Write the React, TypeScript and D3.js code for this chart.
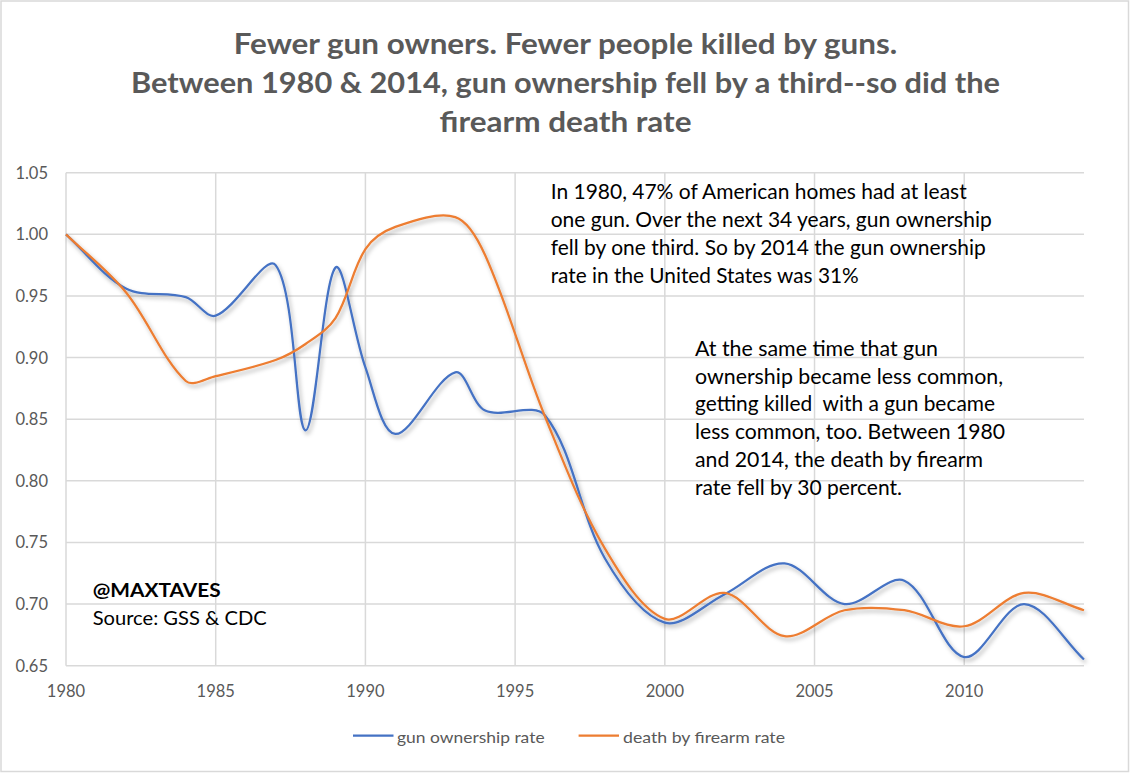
import React from "react";
import * as d3 from "d3";

const years = [1980, 1982, 1984, 1985, 1987, 1988, 1989, 1990, 1991, 1993, 1994, 1996, 1998, 2000, 2002, 2004, 2006, 2008, 2010, 2012, 2014];
const gunOwnership = [1.0, 0.956, 0.949, 0.934, 0.975, 0.841, 0.973, 0.892, 0.838, 0.888, 0.857, 0.853, 0.737, 0.685, 0.708, 0.733, 0.7, 0.719, 0.657, 0.7, 0.655];
const deathByFirearm = [1.0, 0.953, 0.881, 0.885, 0.898, 0.911, 0.932, 0.988, 1.006, 1.014, 0.983, 0.852, 0.745, 0.688, 0.709, 0.674, 0.695, 0.695, 0.682, 0.709, 0.695];
const yTicks = [0.65, 0.7, 0.75, 0.8, 0.85, 0.9, 0.95, 1.0, 1.05];
const xTicks = [1980, 1985, 1990, 1995, 2000, 2005, 2010];
const seriesNames = ["gun ownership rate", "death by firearm rate"];
const seriesColors = ["#4472C4", "#ED7D31"];

const titleLines = [
  "Fewer gun owners. Fewer people killed by guns.",
  "Between 1980 & 2014, gun ownership fell by a third--so did the",
  "firearm death rate",
];
const note1 = [
  "In 1980, 47% of American homes had at least",
  "one gun. Over the next 34 years, gun ownership",
  "fell by one third. So by 2014 the gun ownership",
  "rate in the United States was 31%",
];
const note2 = [
  "At the same time that gun",
  "ownership became less common,",
  "getting killed  with a gun became",
  "less common, too. Between 1980",
  "and 2014, the death by firearm",
  "rate fell by 30 percent.",
];

const W = 1131;
const H = 773;
const FONT = "Lato, 'Open Sans', sans-serif";

// Excel-like smoothed line: Bezier segments whose control points are scaled by neighbouring chord lengths
function smoothPath(pts: [number, number][]): string {
  const p = d3.path();
  const t = 1 / 3;
  const n = pts.length;
  const dist = (a: [number, number], b: [number, number]) => Math.hypot(b[0] - a[0], b[1] - a[1]);
  p.moveTo(pts[0][0], pts[0][1]);
  for (let i = 0; i < n - 1; i++) {
    const p0 = pts[i - 1] || pts[i];
    const p1 = pts[i];
    const p2 = pts[i + 1];
    const p3 = pts[i + 2] || pts[i + 1];
    const d01 = dist(p0, p1);
    const d12 = dist(p1, p2);
    const d23 = dist(p2, p3);
    const f = d01 + d12 > 0 ? (t * d12) / (d01 + d12) : 0;
    const g = d12 + d23 > 0 ? (t * d12) / (d12 + d23) : 0;
    const c1x = p1[0] + f * (p2[0] - p0[0]);
    const c1y = p1[1] + f * (p2[1] - p0[1]);
    const c2x = p2[0] - g * (p3[0] - p1[0]);
    const c2y = p2[1] - g * (p3[1] - p1[1]);
    p.bezierCurveTo(c1x, c1y, c2x, c2y, p2[0], p2[1]);
  }
  return p.toString();
}

export default function App() {
  const x = d3.scaleLinear().domain([1980, 2014]).range([66, 1084]);
  const y = d3.scaleLinear().domain([0.65, 1.05]).range([665.7, 172.7]);

  const series = [gunOwnership, deathByFirearm];
  const paths = series.map((s) => smoothPath(s.map((v, i) => [x(years[i]), y(v)] as [number, number])));

  const titleW = [663.5, 869, 252];
  const titleY = [54, 93, 132];
  const note1W = [416, 441, 435, 308];
  const note1Y = [199.3, 227.3, 255, 282.7];
  const note2W = [243, 308, 300, 310, 288, 207];
  const note2Y = [356, 383.5, 411, 439, 466.7, 494.5];

  return (
    <div style={{ position: "absolute", left: 0, top: 0 }}>
      <svg width={W} height={H} viewBox={`0 0 ${W} ${H}`} style={{ display: "block", fontFamily: FONT }}>
        <defs>
          <filter id="shadow" x="-5%" y="-10%" width="110%" height="130%">
            <feDropShadow dx="2" dy="3" stdDeviation="2.2" floodColor="#000" floodOpacity="0.3" />
          </filter>
        </defs>
        <rect x={1} y={1} width={1127.5} height={770.5} fill="#fff" stroke="#d9d9d9" strokeWidth={1.5} />

        {/* title */}
        {titleLines.map((t, i) => (
          <text
            key={i}
            x={W / 2}
            y={titleY[i]}
            textAnchor="middle"
            fontSize={29}
            fontWeight="bold"
            fill="#595959"
            textLength={titleW[i]}
            lengthAdjust="spacingAndGlyphs"
          >
            {t}
          </text>
        ))}

        {/* gridlines */}
        {yTicks.map((v) => (
          <line key={"gy" + v} x1={66} x2={1084} y1={y(v)} y2={y(v)} stroke="#d9d9d9" strokeWidth={1.5} />
        ))}
        {xTicks.map((v) => (
          <line key={"gx" + v} x1={x(v)} x2={x(v)} y1={y(1.05)} y2={y(0.65)} stroke="#d9d9d9" strokeWidth={1.5} />
        ))}

        {/* tick labels */}
        {yTicks.map((v) => (
          <text key={"ty" + v} x={48} y={y(v)} dy="0.36em" textAnchor="end" fontSize={16.5} fill="#595959">
            {v.toFixed(2)}
          </text>
        ))}
        {xTicks.map((v) => (
          <text key={"tx" + v} x={x(v)} y={697} textAnchor="middle" fontSize={16.5} fill="#595959">
            {v}
          </text>
        ))}

        {/* series */}
        <g filter="url(#shadow)">
          {paths.map((d, i) => (
            <path key={i} d={d} fill="none" stroke={seriesColors[i]} strokeWidth={2.25} />
          ))}
        </g>

        {/* annotations */}
        {note1.map((t, i) => (
          <text key={"n1" + i} x={550.7} y={note1Y[i]} fontSize={20.5} fill="#000" textLength={note1W[i]} lengthAdjust="spacingAndGlyphs" style={{ whiteSpace: "pre" }}>
            {t}
          </text>
        ))}
        {note2.map((t, i) => (
          <text key={"n2" + i} x={695} y={note2Y[i]} fontSize={20.5} fill="#000" textLength={note2W[i]} lengthAdjust="spacingAndGlyphs" style={{ whiteSpace: "pre" }}>
            {t}
          </text>
        ))}
        <text x={92.7} y={597} fontSize={19} fontWeight="bold" fill="#000" textLength={128} lengthAdjust="spacingAndGlyphs">
          @MAXTAVES
        </text>
        <text x={92.7} y={625} fontSize={19} fill="#000" textLength={174} lengthAdjust="spacingAndGlyphs">
          Source: GSS &amp; CDC
        </text>

        {/* legend */}
        <line x1={353} x2={393.5} y1={735.7} y2={735.7} stroke={seriesColors[0]} strokeWidth={2.25} />
        <text x={397} y={742.5} fontSize={16} fill="#595959" textLength={147.6} lengthAdjust="spacingAndGlyphs">
          {seriesNames[0]}
        </text>
        <line x1={578.6} x2={619} y1={735.7} y2={735.7} stroke={seriesColors[1]} strokeWidth={2.25} />
        <text x={623} y={742.5} fontSize={16} fill="#595959" textLength={162} lengthAdjust="spacingAndGlyphs">
          {seriesNames[1]}
        </text>
      </svg>
    </div>
  );
}
